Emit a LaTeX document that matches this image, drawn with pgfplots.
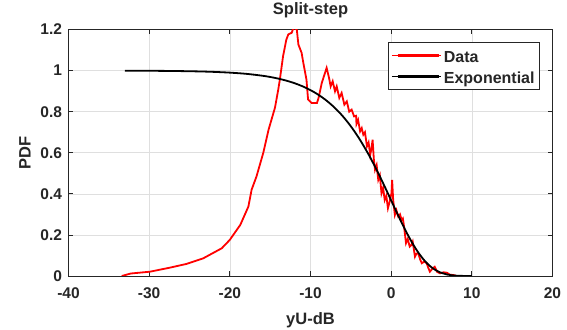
\documentclass[border=0pt]{standalone}
\usepackage{pgfplots}
\pgfplotsset{compat=1.18}
\usepackage{fontspec}
\setmainfont{Liberation Sans}
\definecolor{axgray}{RGB}{38,38,38}
\definecolor{gridgray}{RGB}{223,223,223}
\begin{document}
\begin{tikzpicture}
\begin{axis}[
  at={(0,0)}, anchor=south west,
  scale only axis, width=484pt, height=246.5pt,
  xmin=-40, xmax=20, ymin=0, ymax=1.2,
  xtick={-40,-30,...,20}, ytick={0,0.2,...,1.2},
  grid=major, major grid style={gridgray, line width=0.6pt},
  axis line style={axgray, line width=0.7pt},
  tick style={axgray, line width=0.7pt},
  tick align=inside, major tick length=5pt,
  /pgf/number format/assume math mode=true,
  tick label style={font=\fontsize{15.5}{17}\selectfont\bfseries, text=axgray},
  xticklabel style={yshift=-8.5pt},
  yticklabel style={xshift=-3pt},
  title={Split-step},
  title style={at={(axis description cs:0.5,1.052)}, anchor=center,
    font=\fontsize{16.5}{18}\selectfont\bfseries, text=axgray},
  xlabel={yU-dB}, ylabel={PDF},
  label style={font=\fontsize{16.5}{18}\selectfont\bfseries, text=axgray},
  xlabel style={at={(axis description cs:0.5,-0.1785)}, anchor=center},
  ylabel style={at={(axis description cs:-0.0899,0.5)}, anchor=center},
  legend style={at={(rel axis cs:0.974,0.95)}, anchor=north east,
    draw=axgray, line width=0.7pt, font=\fontsize{16}{18}\selectfont\bfseries,
    text=axgray, inner xsep=3pt, inner ysep=2.75pt, row sep=0pt,
    cells={anchor=west, inner xsep=2pt, inner ysep=0pt, text height=15.5pt, text depth=6.2pt}},
  legend image code/.code={\path (-6pt,0pt) -- (43pt,0pt);
    \draw[#1, line width=2.2pt] (0pt,0pt) -- (41pt,0pt);},
]
\addplot[red, line width=1.8pt] coordinates {
(-33.4,0) (-32.3,0.012) (-29.9,0.021) (-27.5,0.040) (-25.35,0.059) (-23.3,0.086)
(-21.0,0.135) (-20.0,0.176) (-18.7,0.249) (-17.7,0.338) (-17.3,0.42) (-16.7,0.484)
(-15.85,0.60) (-15.2,0.712) (-14.4,0.82) (-14.0,0.907) (-13.8,0.956) (-13.4,1.07)
(-13.0,1.15) (-12.75,1.176) (-12.33,1.184) (-12.1,1.21) (-11.7,1.2) (-11.5,1.127)
(-11.1,1.086) (-10.9,1.04) (-10.5,0.956) (-10.3,0.859) (-9.85,0.842) (-9.2,0.842)
(-9.0,0.867) (-8.6,0.94) (-8.2,0.989) (-8.0,1.013) (-7.7,0.964) (-7.5,0.923)
(-7.25,0.948) (-6.96,0.899) (-6.75,0.923) (-6.43,0.867) (-6.14,0.891) (-5.8,0.834)
(-5.5,0.85) (-5.2,0.80) (-4.9,0.81) (-4.6,0.777) (-4.35,0.78) (-4.3,0.74)
(-4.1,0.76) (-3.85,0.704) (-3.65,0.72) (-3.45,0.688) (-3.25,0.70) (-3.0,0.631)
(-2.8,0.65) (-2.6,0.59) (-2.45,0.62) (-2.3,0.663) (-2.15,0.57) (-2.0,0.517)
(-1.8,0.54) (-1.6,0.468) (-1.4,0.49) (-1.2,0.403) (-1.0,0.43) (-0.8,0.37)
(-0.6,0.39) (-0.4,0.33) (-0.2,0.36) (0.04,0.403) (0.12,0.468) (0.25,0.37)
(0.46,0.297) (0.65,0.32) (0.88,0.289) (1.1,0.30) (1.3,0.273) (1.45,0.28)
(1.6,0.24) (1.84,0.16) (2.05,0.18) (2.3,0.143) (2.5,0.15) (2.67,0.167)
(2.95,0.094) (3.15,0.11) (3.36,0.11) (3.6,0.08) (3.8,0.062) (4.1,0.07)
(4.4,0.062) (4.6,0.04) (4.8,0.021) (5.1,0.035) (5.4,0.045) (5.7,0.02)
(6.05,0.013) (6.5,0.018) (6.9,0.016) (7.3,0.006) (7.7,0.005) (8.1,0)
};
\addlegendentry{Data}
\addplot[black, line width=1.8pt, smooth] coordinates {
(-33,0.9995) (-30,0.999) (-27,0.998) (-24,0.996) (-22,0.9937) (-20,0.990)
(-18,0.9843) (-16,0.9752) (-15,0.9689) (-14,0.961) (-13,0.9511) (-12,0.9389)
(-11,0.9237) (-10,0.9048) (-9,0.8817) (-8,0.8534) (-7,0.8191) (-6,0.7779)
(-5,0.7289) (-4,0.6716) (-3,0.6058) (-2.5,0.5699) (-2,0.5321) (-1.5,0.4927)
(-1,0.4519) (-0.5,0.4101) (0,0.3679) (0.5,0.3256) (1,0.2840) (1.5,0.2435)
(2,0.2050) (2.5,0.1689) (3,0.1360) (3.5,0.1066) (4,0.0811) (4.5,0.0597)
(5,0.0423) (5.5,0.0288) (6,0.0187) (7,0.00666) (8,0.00182) (9,0.000355) (10,0.0000454)
};
\addlegendentry{Exponential}
\end{axis}
\pgfresetboundingbox
\path (-68.5pt,-53pt) rectangle (498.5pt,276pt);
\end{tikzpicture}
\end{document}
